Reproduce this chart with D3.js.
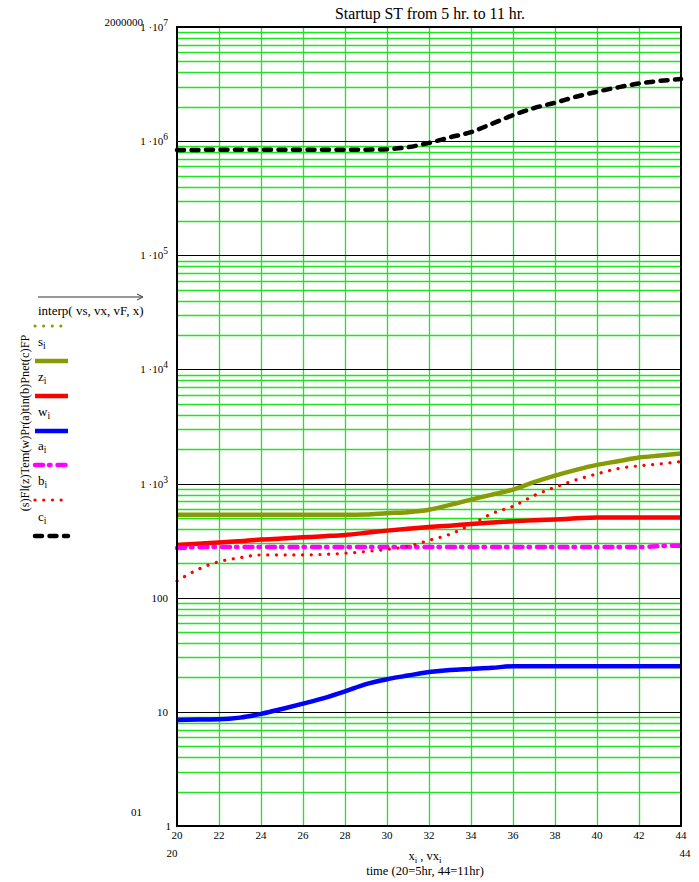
<!DOCTYPE html>
<html>
<head>
<meta charset="utf-8">
<script src="https://cdn.jsdelivr.net/npm/d3@7"></script>
<style>
  html, body { margin: 0; padding: 0; background: #fff; }
  svg { display: block; }
  text { font-family: "Liberation Serif", "DejaVu Serif", serif; fill: #000; }
</style>
</head>
<body>
<svg id="chart" width="699" height="882"></svg>
<script>
// time axis (20 = 5 hr, 44 = 11 hr)
const xs = [20,21,22,23,24,25,26,27,28,29,30,31,32,33,34,35,36,37,38,39,40,41,42,43,44];

// series values
const sVals = [532,532,532,532,532,532,532,532,532,535,550,562,590,650,724,800,886,1030,1175,1320,1458,1570,1690,1760,1830];
const zVals = [290,297,304,313,323,330,338,346,355,370,387,402,416,428,443,456,468,476,484,496,505,505,505,505,505];
const wVals = [8.5,8.55,8.6,8.9,9.6,10.6,11.8,13.2,15.1,17.5,19.3,20.8,22.3,23.3,23.8,24.3,25.1,25.1,25.1,25.1,25.1,25.1,25.1,25.1,25.1];
const aVals = [272,277,278,278,278,278,278,278,278,278,278,278,278,278,278,278,278,278,278,278,278,278,278,283,286];
const bVals = [140,177,207,224,237,237,237,240,245,254,265,282,318,360,437,546,632,785,928,1077,1216,1353,1430,1488,1557];
const cVals = [835000,838000,840000,840000,840000,840000,840000,840000,840000,842000,850000,885000,965000,1080000,1200000,1420000,1690000,1950000,2170000,2450000,2710000,2960000,3200000,3370000,3500000];

// tick labels
const xTicks = [20,22,24,26,28,30,32,34,36,38,40,42,44];
const yMajor = [1e7,1e6,1e5,1e4,1e3];
const yMajorExp = ["7","6","5","4","3"];
const yPlain = [100,10];
const yPlainLabels = ["100","10"];

const title = "Startup ST from 5 hr. to 11 hr.";
const yTitle = "(s)Fl(z)Tem(w)Pr(a)tin(b)Pnet(c)FP";

const svg = d3.select("#chart");
const L = 177, R = 681, T = 27, B = 826;

const x = d3.scaleLinear().domain([20, 44]).range([L, R]);
const y = d3.scaleLog().domain([1, 1e7]).range([B, T]);

// grid: minor horizontal lines (2..9 per decade)
const minor = [];
for (let e = 0; e < 7; e++) for (let m = 2; m <= 9; m++) minor.push(m * Math.pow(10, e));
svg.append("g").selectAll("line").data(minor).join("line")
  .attr("x1", L).attr("x2", R)
  .attr("y1", d => Math.round(y(d)) + 0.5).attr("y2", d => Math.round(y(d)) + 0.5)
  .attr("stroke", "#1ee61e").attr("stroke-width", 1.3);

// vertical grid lines
svg.append("g").selectAll("line").data(xTicks.slice(1, -1)).join("line")
  .attr("x1", d => Math.round(x(d)) + 0.5).attr("x2", d => Math.round(x(d)) + 0.5)
  .attr("y1", T).attr("y2", B)
  .attr("stroke", "#1ee61e").attr("stroke-width", 1.3);

// decade lines
const decades = [1e6,1e5,1e4,1e3,100,10];
svg.append("g").selectAll("line").data(decades).join("line")
  .attr("x1", L).attr("x2", R)
  .attr("y1", d => Math.round(y(d)) + 0.5).attr("y2", d => Math.round(y(d)) + 0.5)
  .attr("stroke", "#000").attr("stroke-width", 1.2);

// series
const line = d3.line().x((d, i) => x(xs[i])).y(d => y(d)).curve(d3.curveMonotoneX);
const plot = svg.append("g");
const series = [
  { v: sVals, color: "#879b06", w: 4.5, dash: null, cap: "butt" },
  { v: zVals, color: "#ff0000", w: 4.5, dash: null, cap: "butt" },
  { v: wVals, color: "#0000ff", w: 4.5, dash: null, cap: "butt" },
  { v: aVals, color: "#ff00ff", w: 4.5, dash: "8,6,1.5,7", cap: "round" },
  { v: bVals, color: "#ff0000", w: 3.2, dash: "0.1,8.6", cap: "round" },
  { v: cVals, color: "#000000", w: 4.5, dash: "7,7.5", cap: "round" }
];
series.forEach(s => {
  plot.append("path").datum(s.v)
    .attr("d", line)
    .attr("fill", "none")
    .attr("stroke", s.color)
    .attr("stroke-width", s.w)
    .attr("stroke-linecap", s.cap)
    .attr("stroke-dasharray", s.dash);
});

// frame
svg.append("rect").attr("x", L).attr("y", T).attr("width", R - L).attr("height", B - T)
  .attr("fill", "none").attr("stroke", "#000").attr("stroke-width", 2);

// title
svg.append("text").attr("x", 430).attr("y", 19).attr("text-anchor", "middle")
  .attr("font-size", 15.8).text(title);

// x tick labels
svg.append("g").selectAll("text").data(xTicks).join("text")
  .attr("x", d => x(d)).attr("y", 839).attr("text-anchor", "middle")
  .attr("font-size", 11).text(d => d);

// y major tick labels  "1 ·10^n"
yMajor.forEach((v, i) => {
  const t = svg.append("text").attr("x", 168).attr("y", y(v) + 4)
    .attr("text-anchor", "end").attr("font-size", 11);
  t.append("tspan").text("1 \u00b710");
  t.append("tspan").attr("dy", -5).attr("font-size", 9.5).text(yMajorExp[i]);
});
yPlain.forEach((v, i) => {
  svg.append("text").attr("x", 168).attr("y", y(v) + 4)
    .attr("text-anchor", "end").attr("font-size", 11).text(yPlainLabels[i]);
});
svg.append("text").attr("x", 171).attr("y", 830).attr("text-anchor", "end")
  .attr("font-size", 11).text("1");
svg.append("text").attr("x", 142).attr("y", 816).attr("text-anchor", "end")
  .attr("font-size", 11).text("01");
svg.append("text").attr("x", 143).attr("y", 26).attr("text-anchor", "end")
  .attr("font-size", 11).text("2000000");

// axis limit labels and x title
svg.append("text").attr("x", 172).attr("y", 857).attr("text-anchor", "middle")
  .attr("font-size", 11).text("20");
svg.append("text").attr("x", 685).attr("y", 857).attr("text-anchor", "middle")
  .attr("font-size", 11).text("44");
const xl = svg.append("text").attr("x", 425).attr("y", 860).attr("text-anchor", "middle").attr("font-size", 12.5);
xl.append("tspan").text("x");
xl.append("tspan").attr("dy", 3).attr("font-size", 9).text("i");
xl.append("tspan").attr("dy", -3).text(" , vx");
xl.append("tspan").attr("dy", 3).attr("font-size", 9).text("i");
svg.append("text").attr("x", 425).attr("y", 875).attr("text-anchor", "middle")
  .attr("font-size", 12.5).text("time  (20=5hr, 44=11hr)");

// y title
svg.append("text").attr("transform", "translate(29,423) rotate(-90)")
  .attr("text-anchor", "middle").attr("font-size", 12.3).text(yTitle);

// legend
const lg = svg.append("g");
lg.append("line").attr("x1", 38).attr("x2", 141).attr("y1", 297).attr("y2", 297)
  .attr("stroke", "#333").attr("stroke-width", 1);
lg.append("path").attr("d", "M137,294 L143,297 L137,300").attr("fill", "none")
  .attr("stroke", "#333").attr("stroke-width", 1);
lg.append("text").attr("x", 38).attr("y", 315).attr("font-size", 13).text("interp( vs, vx, vF, x)");
lg.append("line").attr("x1", 35).attr("x2", 68).attr("y1", 326).attr("y2", 326)
  .attr("stroke", "#879b06").attr("stroke-width", 3).attr("stroke-linecap", "round")
  .attr("stroke-dasharray", "0.1,8.5");

const legendNames = ["s", "z", "w", "a", "b", "c"];
const legendY = [361, 396, 431, 465, 500, 536];
legendNames.forEach((n, i) => {
  const s = series[i];
  const t = lg.append("text").attr("x", 38).attr("y", legendY[i] - 15).attr("font-size", 13);
  t.append("tspan").text(n);
  t.append("tspan").attr("dy", 3).attr("font-size", 9.5).text("i");
  lg.append("line").attr("x1", 35).attr("x2", 68)
    .attr("y1", legendY[i]).attr("y2", legendY[i])
    .attr("stroke", s.color).attr("stroke-width", s.w)
    .attr("stroke-linecap", s.cap).attr("stroke-dasharray", s.dash);
});
</script>
</body>
</html>
